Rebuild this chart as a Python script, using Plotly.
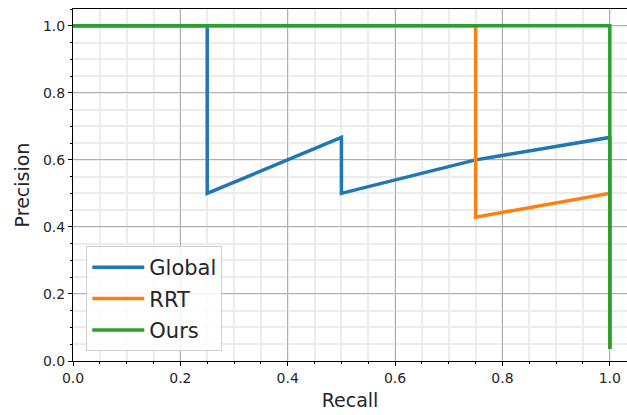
import plotly.graph_objects as go

# Data
recall_global = [0.0, 0.25, 0.25, 0.5, 0.5, 0.75, 1.0, 1.0]
prec_global = [1.0, 1.0, 0.5, 0.667, 0.5, 0.6, 0.667, 0.036]
recall_rrt = [0.0, 0.75, 0.75, 1.0, 1.0]
prec_rrt = [1.0, 1.0, 0.429, 0.5, 0.036]
recall_ours = [0.0, 1.0, 1.0]
prec_ours = [1.0, 1.0, 0.036]

names = ["Global", "RRT", "Ours"]
colors = ["#1f77b4", "#ff7f0e", "#2ca02c"]
tick_vals = [0.0, 0.2, 0.4, 0.6, 0.8, 1.0]
tick_text = ["0.0", "0.2", "0.4", "0.6", "0.8", "1.0"]

FONT = "DejaVu Sans"

fig = go.Figure()
for xs, ys, name, col in zip([recall_global, recall_rrt, recall_ours],
                             [prec_global, prec_rrt, prec_ours], names, colors):
    fig.add_trace(go.Scatter(x=xs, y=ys, mode="lines", name=name, legendgroup=name,
                             line=dict(color=col, width=3.5)))

axis_common = dict(
    tickvals=tick_vals, ticktext=tick_text,
    showline=True, linecolor="black", linewidth=1,
    ticks="outside", ticklen=4, tickcolor="black", tickwidth=1,
    showgrid=True, gridcolor="#b0b0b0", gridwidth=1,
    zeroline=False, automargin=False,
    tickfont=dict(family=FONT, size=14, color="#262626"),
    minor=dict(dtick=0.05, ticks="outside", ticklen=2, tickcolor="black",
               showgrid=True, gridcolor="#ececec", gridwidth=1.5),
)

fig.update_xaxes(range=[0, 1.032], mirror=True,
                 title=dict(text="Recall", font=dict(family=FONT, size=19, color="#262626"), standoff=8),
                 **axis_common)
fig.update_yaxes(range=[0, 1.05],
                 title=dict(text="Precision", font=dict(family=FONT, size=19, color="#262626"), standoff=8),
                 **axis_common)

fig.update_layout(
    width=627, height=415,
    margin=dict(l=73, r=0, t=9, b=54),
    paper_bgcolor="white", plot_bgcolor="white",
    font=dict(family=FONT),
    legend=dict(x=0.024, y=0.028, xanchor="left", yanchor="bottom",
                bgcolor="rgba(255,255,255,0.85)", bordercolor="#d0d0d0", borderwidth=1,
                font=dict(family=FONT, size=21, color="#262626"),
                tracegroupgap=1, itemwidth=52, entrywidth=75),
    showlegend=True,
)

fig.write_html("out.html", config={"displayModeBar": False},
               post_script="document.body.style.margin='0';document.body.style.overflow='hidden';")
